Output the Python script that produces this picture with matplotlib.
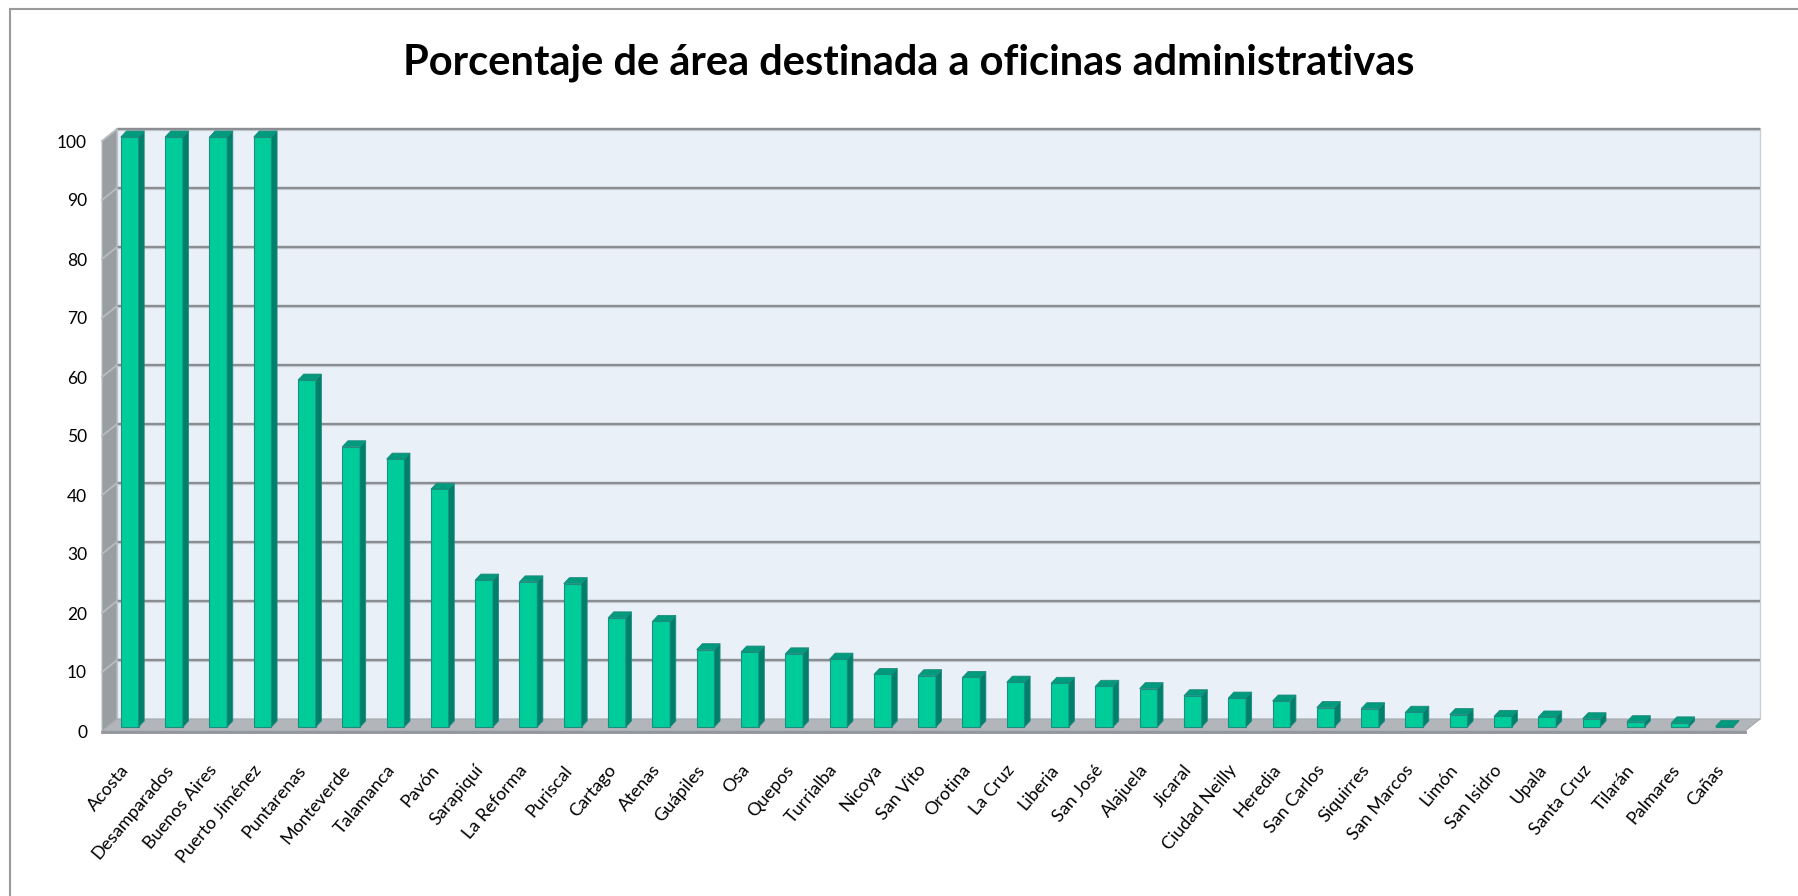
import matplotlib
matplotlib.use("Agg")
import matplotlib.pyplot as plt
from matplotlib.patches import Polygon, Rectangle

# ---------------- data ----------------
categories = ["Acosta", "Desamparados", "Buenos Aires", "Puerto Jiménez", "Puntarenas",
              "Monteverde", "Talamanca", "Pavón", "Sarapiquí", "La Reforma", "Puriscal",
              "Cartago", "Atenas", "Guápiles", "Osa", "Quepos", "Turrialba", "Nicoya",
              "San Vito", "Orotina", "La Cruz", "Liberia", "San José", "Alajuela",
              "Jicaral", "Ciudad Neilly", "Heredia", "San Carlos", "Siquirres",
              "San Marcos", "Limón", "San Isidro", "Upala", "Santa Cruz", "Tilarán",
              "Palmares", "Cañas"]
values = [100, 100, 100, 100, 58.8, 47.5, 45.4, 40.3, 24.9, 24.6, 24.3,
          18.5, 17.9, 13.1, 12.7, 12.4, 11.5, 8.9, 8.7, 8.4, 7.6, 7.4, 6.9, 6.5,
          5.3, 4.9, 4.4, 3.3, 3.1, 2.5, 2.1, 1.8, 1.7, 1.4, 0.9, 0.7, 0.1]
yticks = list(range(0, 101, 10))
title = "Porcentaje de área destinada a oficinas administrativas"

# ---------------- style ----------------
plt.rcParams["font.family"] = ["Lato", "DejaVu Sans"]
W, H, DPI = 1798, 896, 100
C_FRONT = "#00CC99"
C_SIDE = "#00806A"
C_TOP = "#009A7C"
C_EDGE = "#1E8C80"
C_BACK = "#E9F0F7"
C_LEFT = "#999EA2"
C_FLOOR = "#B2B6BA"
C_GRID = "#8A8D91"

fig = plt.figure(figsize=(W / DPI, H / DPI), dpi=DPI)
fig.patch.set_facecolor("white")

# outer chart frame
fig.add_artist(Rectangle((10 / W, -0.05), 1.2, (H - 9) / H + 0.05,
                         transform=fig.transFigure, fill=False,
                         edgecolor="#9A9A9A", lw=1.5))

fig.text(909 / W, (H - 74) / H, title, ha="center", va="baseline",
         fontsize=30, fontweight="bold", color="black")

# front plane axes
L, R, B, T = 102, 1745, 731, 141
ax = fig.add_axes([L / W, (H - B) / H, (R - L) / W, (B - T) / H])
x0, x1 = -0.54, 36.55
ax.set_xlim(x0, x1)
ax.set_ylim(0, 100)
ax.patch.set_alpha(0)
for s in ax.spines.values():
    s.set_visible(False)

sx = (R - L) / (x1 - x0)     # px per x unit
sy = (B - T) / 100.0         # px per y unit
DX, DY = 15 / sx, 12 / sy    # wall depth in data units
FX, FY = 3.75 / sx, 4 / sy   # bar front-face depth
BX, BY = 9.4 / sx, 10 / sy   # bar back-face depth

kw = dict(clip_on=False)
# back wall
ax.add_patch(Polygon([(x0 + DX, DY), (x1 + DX, DY), (x1 + DX, 100 + DY), (x0 + DX, 100 + DY)],
                     closed=True, facecolor=C_BACK, edgecolor="#C9CFD6", lw=1.0, zorder=0, **kw))
ax.plot([x0 + DX, x1 + DX], [100 + DY, 100 + DY], color="#A0A4A8", lw=1.2, zorder=2, **kw)
# left wall
ax.add_patch(Polygon([(x0, 0), (x0 + DX, DY), (x0 + DX, 100 + DY), (x0, 100)],
                     closed=True, facecolor=C_LEFT, edgecolor="#B9BDC1", lw=0.8, zorder=1, **kw))
# gridlines
for v in yticks[1:]:
    ax.plot([x0 + DX, x1 + DX], [v + DY - 0.25, v + DY - 0.25], color="#CDD3D9", lw=1.0, zorder=2, **kw)
    ax.plot([x0 + DX, x1 + DX], [v + DY, v + DY], color=C_GRID, lw=1.7, zorder=2,
            solid_capstyle="butt", **kw)
    ax.plot([x0, x0 + DX], [v, v + DY], color="#B8BCC0", lw=1.3, zorder=2, **kw)
# floor
ax.add_patch(Polygon([(x0, 0), (x1, 0), (x1 + DX, DY), (x0 + DX, DY)],
                     closed=True, facecolor=C_FLOOR, edgecolor="#A5AAAE", lw=0.8, zorder=3, **kw))
ax.plot([x0, x1], [-0.15, -0.15], color="#8F9498", lw=2.0, zorder=3, **kw)

# bars (front, side and top faces)
hw = 0.2
for i, v in enumerate(values):
    xl, xr = i - hw, i + hw
    ax.add_patch(Rectangle((xl + FX, FY), 2 * hw, v, facecolor=C_FRONT,
                           edgecolor=C_EDGE, lw=0.8, zorder=5, **kw))
    ax.add_patch(Polygon([(xr + FX, FY), (xr + BX, BY), (xr + BX, v + BY), (xr + FX, v + FY)],
                         closed=True, facecolor=C_SIDE, edgecolor=C_EDGE, lw=0.6, zorder=5, **kw))
    ax.add_patch(Polygon([(xl + FX, v + FY), (xr + FX, v + FY), (xr + BX, v + BY), (xl + BX, v + BY)],
                         closed=True, facecolor=C_TOP, edgecolor=C_EDGE, lw=0.6, zorder=5, **kw))

# ticks
ax.set_yticks(yticks)
ax.set_yticklabels([str(t) for t in yticks], fontsize=12.5, color="black")
ax.tick_params(axis="y", length=0, pad=10.8)
ax.set_xticks(range(len(categories)))
ax.set_xticklabels(categories, rotation=50, ha="right", va="center",
                   rotation_mode="anchor", fontsize=13, color="black")
ax.tick_params(axis="x", length=0, pad=26)

fig.savefig("out.png", dpi=DPI, facecolor="white")
